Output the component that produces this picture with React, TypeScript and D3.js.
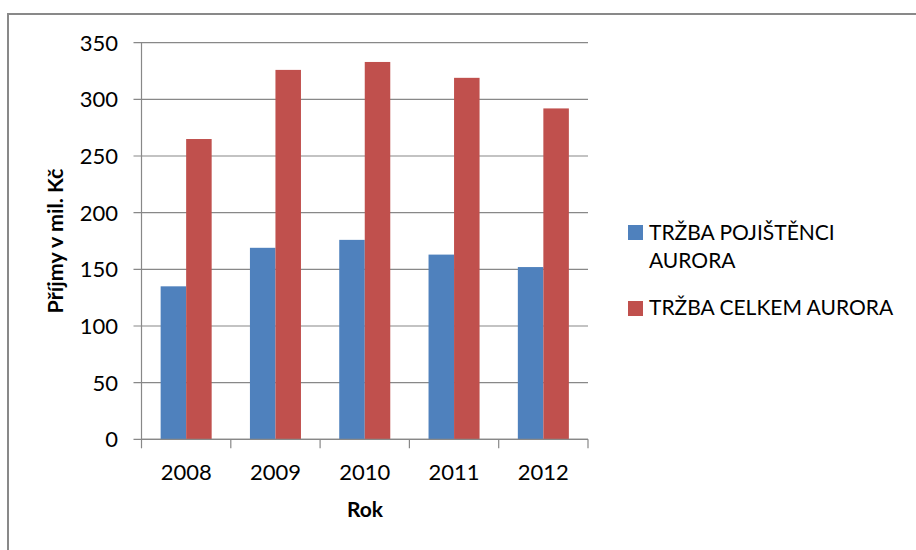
import React from 'react';
import * as d3 from 'd3';

const years = ['2008', '2009', '2010', '2011', '2012'];
const seriesNames = ['TRŽBA POJIŠTĚNCI AURORA', 'TRŽBA CELKEM AURORA'];
const pojistenci = [135, 169, 176, 163, 152];
const celkem = [265, 326, 333, 319, 292];
const yTicks = [0, 50, 100, 150, 200, 250, 300, 350];
const colors = ['#4F81BD', '#C0504D'];

const W = 916;
const H = 550;
const FONT = 'Lato, "Open Sans", sans-serif';

function App() {
  const x = d3.scaleBand().domain(years).range([141.5, 588]).padding(0);
  const inner = d3
    .scaleBand()
    .domain(seriesNames)
    .range([0, x.bandwidth()])
    .paddingInner(0)
    .paddingOuter(0.75);
  const y = d3.scaleLinear().domain([0, 350]).range([439.3, 42.7]);

  const values = [pojistenci, celkem];
  const left = x.range()[0];
  const right = x.range()[1];
  const grid = '#888888';

  return (
    <svg width={W} height={H} style={{ position: 'absolute', left: 0, top: 0, background: '#fff' }}>
      {/* chart frame, only top and left are visible */}
      <rect x={8} y={14} width={W + 20} height={H + 20} fill="#fff" stroke="#898989" strokeWidth={2} />

      {yTicks.map(t => (
        <g key={t}>
          <line x1={left - 8} x2={right} y1={y(t)} y2={y(t)} stroke={grid} strokeWidth={1.2} />
          <text x={118} y={y(t)} dy="0.36em" textAnchor="end" fontFamily={FONT} fontSize={22} fill="#000">
            {t}
          </text>
        </g>
      ))}

      {values.map((vals, si) =>
        years.map((yr, i) => (
          <rect
            key={yr + si}
            x={(x(yr) ?? 0) + (inner(seriesNames[si]) ?? 0)}
            y={y(vals[i])}
            width={inner.bandwidth()}
            height={y(0) - y(vals[i])}
            fill={colors[si]}
          />
        ))
      )}

      {/* axes */}
      <line x1={left} x2={left} y1={y(350)} y2={y(0)} stroke={grid} strokeWidth={1.2} />
      <line x1={left} x2={right} y1={y(0)} y2={y(0)} stroke={grid} strokeWidth={1.2} />
      {[...years.map(yr => x(yr) ?? 0), right].map((px, i) => (
        <line key={i} x1={px} x2={px} y1={y(0)} y2={y(0) + 9} stroke={grid} strokeWidth={1.2} />
      ))}
      {years.map(yr => (
        <text
          key={yr}
          x={(x(yr) ?? 0) + x.bandwidth() / 2}
          y={480}
          textAnchor="middle"
          fontFamily={FONT}
          fontSize={22}
          fill="#000"
        >
          {yr}
        </text>
      ))}

      <text x={365} y={517} textAnchor="middle" fontFamily={FONT} fontSize={21} fontWeight="bold" fill="#000">
        Rok
      </text>
      <text
        transform={`translate(63, ${(y(0) + y(350)) / 2}) rotate(-90)`}
        textAnchor="middle"
        fontFamily={FONT}
        fontSize={21.5}
        fontWeight="bold"
        fill="#000"
      >
        Příjmy v mil. Kč
      </text>

      {/* legend */}
      <rect x={628} y={225} width={15} height={15} fill={colors[0]} />
      <text x={649} y={240} fontFamily={FONT} fontSize={21} fill="#000">
        <tspan x={649}>TRŽBA POJIŠTĚNCI</tspan>
        <tspan x={649} dy={28}>AURORA</tspan>
      </text>
      <rect x={628} y={301} width={15} height={15} fill={colors[1]} />
      <text x={649} y={315} fontFamily={FONT} fontSize={21} fill="#000">
        {seriesNames[1]}
      </text>
    </svg>
  );
}

export default App;
